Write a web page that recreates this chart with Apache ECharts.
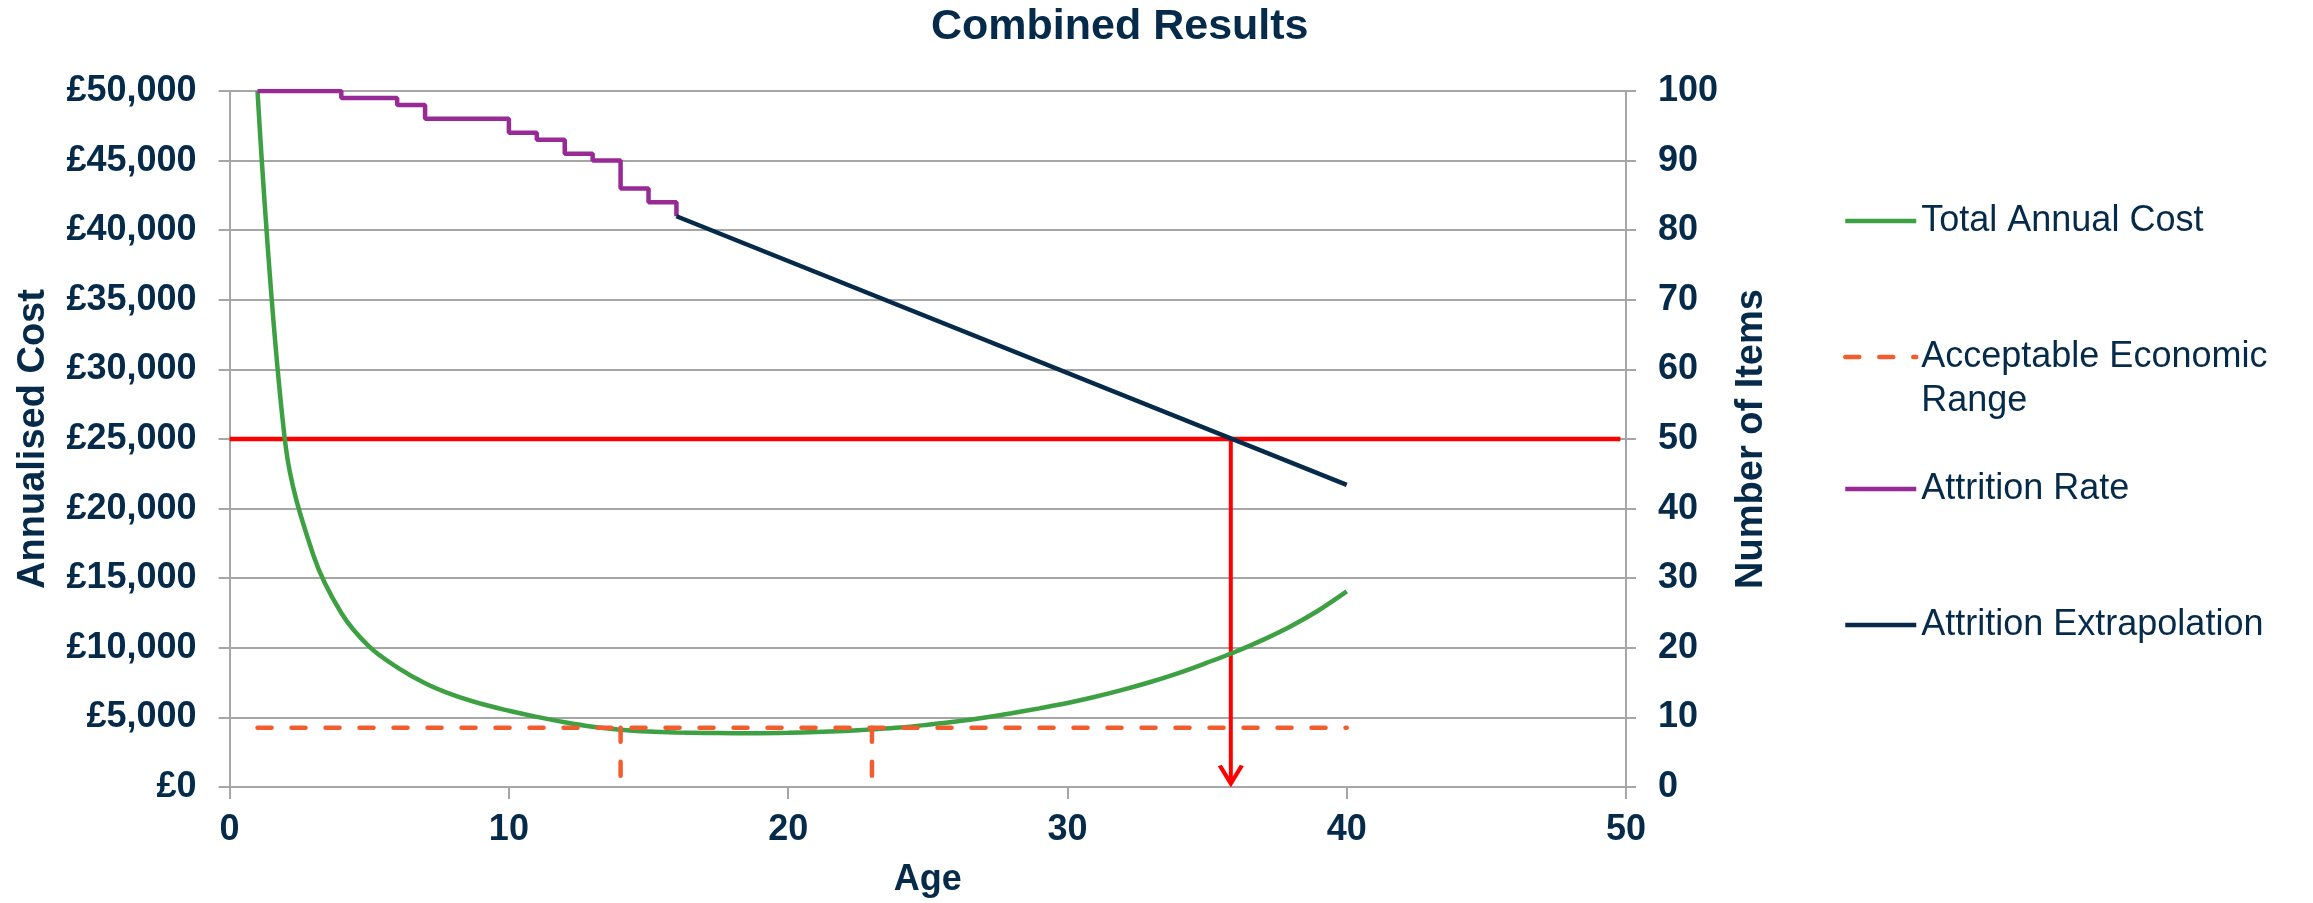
<!DOCTYPE html>
<html>
<head>
<meta charset="utf-8">
<script src="https://cdn.jsdelivr.net/npm/echarts@6/dist/echarts.min.js"></script>
<style>
html,body{margin:0;padding:0;background:#fff;}
#chart{width:2313px;height:903px;}
</style>
</head>
<body>
<div id="chart"></div>
<script>
// ---------- data ----------
const titleText = 'Combined Results';
const ages = [1,2,3,4,5,6,7,8,9,10,11,12,13,14,15,16,17,18,19,20,21,22,23,24,25,26,27,28,29,30,31,32,33,34,35,36,37,38,39,40];
const totalAnnualCost = [50000,24600,16650,12500,10080,8600,7460,6615,5980,5480,5040,4650,4330,4120,3990,3920,3885,3865,3862,3890,3950,4030,4140,4270,4470,4700,4980,5300,5650,6030,6480,6990,7560,8200,8930,9700,10570,11550,12700,14050];
const attritionAges = [1,2,3,4,5,6,7,8,9,10,11,12,13,14,15,16];
const attritionRate = [100,100,100,99,99,98,96,96,96,94,93,91,90,86,84,82];
const extrapolationAges = [16,40];
const extrapolationItems = [82,43.4];
const acceptableCost = 4250;
const acceptableSpanAges = [1,40];
const acceptableRangeAges = [14,23];
const thresholdItems = 50;
const thresholdSpanAges = [0,49.8];
const replacementAge = 35.85;
const arrowTipItems = 0.5;
const xTicks = {min:0, max:50, interval:10};
const costTicks = {min:0, max:50000, interval:5000};
const itemTicks = {min:0, max:100, interval:10};
const legendNames = ['Total Annual Cost','Acceptable Economic Range','Attrition Rate','Attrition Extrapolation'];

// ---------- style ----------
const FONT = "'Liberation Sans', Arial, sans-serif";
const NAVY = '#062A49';
const GRID = '#A6A6A6';
const GREEN = '#3DA043';
const ORANGE = '#F15D2F';
const PURPLE = '#982A95';
const RED = '#FF0000';
const LW = 4.5;

function fmtPound(v){ return '£' + String(v).replace(/\B(?=(\d{3})+(?!\d))/g, ','); }

const chart = echarts.init(document.getElementById('chart'), null, {renderer:'canvas'});

const labelStyle = {color:NAVY, fontFamily:FONT, fontWeight:'bold', fontSize:36};
const nameStyle = {color:NAVY, fontFamily:FONT, fontWeight:'bold', fontSize:38};
const axisLineStyle = {color:GRID, width:2};

const legendBase = {
  orient:'vertical', left:1843, itemWidth:71, itemHeight:14, itemGap:0, padding:0,
  selectedMode:false,
  itemStyle:{opacity:0},
  lineStyle:{width:LW},
  textStyle:{color:NAVY, fontFamily:FONT, fontSize:36, lineHeight:44}
};

const dashStyle = {color:ORANGE, width:LW, type:[14,20], cap:'round'};

const option = {
  animation:false,
  backgroundColor:'#fff',
  title:{
    text:titleText, left:931, top:6, padding:0,
    textStyle:{color:NAVY, fontFamily:FONT, fontWeight:'bold', fontSize:43}
  },
  legend:[
    Object.assign({}, legendBase, {data:[legendNames[0]], top:221-22}),
    Object.assign({}, legendBase, {data:[legendNames[1]], top:357-66,
      formatter:function(){ return ' \nAcceptable Economic\nRange'; }}),
    Object.assign({}, legendBase, {data:[legendNames[2]], top:489-22}),
    Object.assign({}, legendBase, {data:[legendNames[3]], top:625-22})
  ],
  grid:{left:229.6, right:2313-1626, top:91, bottom:903-787, containLabel:false, outerBoundsMode:'none'},
  xAxis:{
    type:'value', min:xTicks.min, max:xTicks.max, interval:xTicks.interval,
    axisLine:{show:true, onZero:false, lineStyle:axisLineStyle},
    axisTick:{show:true, length:12, lineStyle:axisLineStyle},
    axisLabel:{show:true, margin:25, ...labelStyle},
    splitLine:{show:false},
    name:'Age', nameLocation:'middle', nameGap:75, nameTextStyle:{...labelStyle}
  },
  yAxis:[
    {
      type:'value', position:'left', min:costTicks.min, max:costTicks.max, interval:costTicks.interval,
      axisLine:{show:true, lineStyle:axisLineStyle},
      axisTick:{show:true, length:11, lineStyle:axisLineStyle},
      axisLabel:{show:true, margin:33, formatter:fmtPound, ...labelStyle},
      splitLine:{show:true, lineStyle:{color:GRID, width:2}},
      name:'Annualised Cost', nameLocation:'middle', nameRotate:90, nameGap:177, nameTextStyle:nameStyle
    },
    {
      type:'value', position:'right', min:itemTicks.min, max:itemTicks.max, interval:itemTicks.interval,
      axisLine:{show:true, lineStyle:axisLineStyle},
      axisTick:{show:true, length:10, lineStyle:axisLineStyle},
      axisLabel:{show:true, margin:32, ...labelStyle},
      splitLine:{show:false},
      name:'Number of Items', nameLocation:'middle', nameRotate:90, nameGap:107, nameTextStyle:nameStyle
    }
  ],
  series:[
    {
      name:legendNames[0], type:'line', yAxisIndex:0, symbol:'none', smooth:0.35,
      data:ages.map(function(a,i){ return [a, totalAnnualCost[i]]; }),
      lineStyle:{color:GREEN, width:LW}, itemStyle:{color:GREEN}, z:3
    },
    {
      name:legendNames[1], type:'line', yAxisIndex:0, symbol:'none',
      data:acceptableSpanAges.map(function(a){ return [a, acceptableCost]; }),
      lineStyle:dashStyle, itemStyle:{color:ORANGE}, z:4
    },
    {
      name:legendNames[1], type:'line', yAxisIndex:0, symbol:'none',
      data:[[acceptableRangeAges[0], acceptableCost],[acceptableRangeAges[0], 0]],
      lineStyle:dashStyle, itemStyle:{color:ORANGE}, z:4
    },
    {
      name:legendNames[1], type:'line', yAxisIndex:0, symbol:'none',
      data:[[acceptableRangeAges[1], acceptableCost],[acceptableRangeAges[1], 0]],
      lineStyle:dashStyle, itemStyle:{color:ORANGE}, z:4
    },
    {
      name:legendNames[2], type:'line', yAxisIndex:1, symbol:'none', step:'end',
      data:attritionAges.map(function(a,i){ return [a, attritionRate[i]]; }),
      lineStyle:{color:PURPLE, width:LW}, itemStyle:{color:PURPLE}, z:3
    },
    {
      name:legendNames[3], type:'line', yAxisIndex:1, symbol:'none',
      data:extrapolationAges.map(function(a,i){ return [a, extrapolationItems[i]]; }),
      lineStyle:{color:NAVY, width:LW}, itemStyle:{color:NAVY}, z:3
    },
    {
      name:'Threshold', type:'line', yAxisIndex:1, symbol:'none',
      data:thresholdSpanAges.map(function(a){ return [a, thresholdItems]; }),
      lineStyle:{color:RED, width:LW}, itemStyle:{color:RED}, z:2
    },
    {
      name:'Replacement Age', type:'line', yAxisIndex:1, symbol:'none', showSymbol:true,
      data:[
        [replacementAge, thresholdItems],
        {value:[replacementAge, arrowTipItems], symbol:'path://M0,0 L11,18 L22,0', symbolSize:[22,18],
         symbolOffset:[0,-9], itemStyle:{color:'none', borderColor:RED, borderWidth:4}}
      ],
      lineStyle:{color:RED, width:4}, itemStyle:{color:RED}, z:2
    }
  ]
};
chart.setOption(option);
</script>
</body>
</html>
